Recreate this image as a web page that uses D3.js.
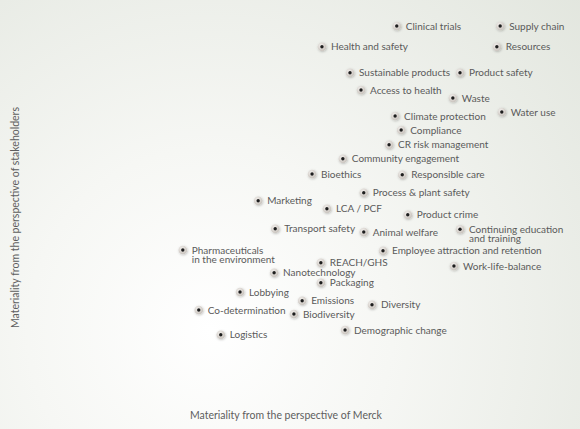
<!DOCTYPE html>
<html>
<head>
<meta charset="utf-8">
<script src="https://cdn.jsdelivr.net/npm/d3@7"></script>
<style>
  html, body { margin: 0; padding: 0; background: #fff; }
  svg { display: block; }
  .label { font-family: 'Lato', 'Open Sans', sans-serif; font-size: 10px; fill: #5a5a5a; }
  .axis-title { font-family: 'Lato', 'Open Sans', sans-serif; font-size: 10.5px; fill: #5e5e5e; }
</style>
</head>
<body>
<svg id="chart"></svg>
<script>
// topics
const topics = [
  'Clinical trials', 'Supply chain', 'Health and safety', 'Resources',
  'Sustainable products', 'Product safety', 'Access to health', 'Waste',
  'Water use', 'Climate protection', 'Compliance', 'CR risk management',
  'Community engagement', 'Bioethics', 'Responsible care', 'Process & plant safety',
  'Marketing', 'LCA / PCF', 'Product crime', 'Transport safety',
  'Animal welfare', 'Continuing education\nand training', 'Pharmaceuticals\nin the environment',
  'Employee attraction and retention', 'REACH/GHS', 'Work-life-balance',
  'Nanotechnology', 'Packaging', 'Lobbying', 'Emissions', 'Diversity',
  'Co-determination', 'Biodiversity', 'Demographic change', 'Logistics'
]
// materiality from the perspective of Merck (0-10)
const merckValues = [
  6.85, 8.73, 5.49, 8.67,
  6.0, 8.0, 6.2, 7.87,
  8.76, 6.82, 6.93, 6.71,
  5.87, 5.31, 6.95, 6.25,
  4.33, 5.58, 7.05, 4.64,
  6.25, 8.0, 2.96,
  6.6, 5.47, 7.89,
  4.62, 5.47, 4.0, 5.13, 6.4,
  3.25, 4.98, 5.91, 3.65
]
// materiality from the perspective of stakeholders (0-10)
const stakeholderValues = [
  9.6, 9.6, 9.08, 9.08,
  8.43, 8.43, 8.0, 7.8,
  7.45, 7.35, 7.0, 6.63,
  6.28, 5.9, 5.88, 5.43,
  5.23, 5.03, 4.88, 4.53,
  4.45, 4.52, 4.0,
  3.98, 3.68, 3.6,
  3.43, 3.18, 2.95, 2.73, 2.63,
  2.5, 2.4, 2.0, 1.88
]
const xTitle = 'Materiality from the perspective of Merck'
const yTitle = 'Materiality from the perspective of stakeholders'

const width = 580, height = 429

const svg = d3.select('#chart')
  .attr('width', width)
  .attr('height', height)

const defs = svg.append('defs')

const bg = defs.append('radialGradient')
  .attr('id', 'bg')
  .attr('gradientUnits', 'userSpaceOnUse')
  .attr('cx', 210).attr('cy', 330).attr('r', 520)
bg.append('stop').attr('offset', '0').attr('stop-color', '#ffffff')
bg.append('stop').attr('offset', '0.35').attr('stop-color', '#f6f7f4')
bg.append('stop').attr('offset', '1').attr('stop-color', '#e1e5dd')

const dotGrad = defs.append('radialGradient')
  .attr('id', 'dot')
  .attr('cx', '40%').attr('cy', '35%').attr('r', '65%')
dotGrad.append('stop').attr('offset', '0').attr('stop-color', '#f4f1ee')
dotGrad.append('stop').attr('offset', '1').attr('stop-color', '#c9c3bd')

const shadow = defs.append('filter')
  .attr('id', 'shadow')
  .attr('x', '-50%').attr('y', '-50%').attr('width', '200%').attr('height', '200%')
shadow.append('feDropShadow')
  .attr('dx', 0.6).attr('dy', 0.8).attr('stdDeviation', 0.8)
  .attr('flood-color', '#000').attr('flood-opacity', 0.25)

svg.append('rect')
  .attr('width', width)
  .attr('height', height)
  .attr('fill', 'url(#bg)')

const data = topics.map((t, i) => ({ name: t, x: merckValues[i], y: stakeholderValues[i] }))

// scales
const x = d3.scaleLinear().domain([0, 10]).range([20, 570])
const y = d3.scaleLinear().domain([0, 10]).range([410, 10])

const points = svg.append('g')
  .selectAll('g')
  .data(data)
  .join('g')
  .attr('transform', d => `translate(${x(d.x)},${y(d.y)})`)

points.append('circle')
  .attr('r', 4.3)
  .attr('fill', 'url(#dot)')
  .attr('filter', 'url(#shadow)')

points.append('circle')
  .attr('r', 1.7)
  .attr('fill', '#1e1e1e')

points.append('text')
  .attr('class', 'label')
  .attr('x', 9)
  .attr('y', 3.6)
  .selectAll('tspan')
  .data(d => d.name.split('\n'))
  .join('tspan')
  .attr('x', 9)
  .attr('dy', (d, i) => i === 0 ? 0 : 9.6)
  .text(d => d)

// axis titles
svg.append('text')
  .attr('class', 'axis-title')
  .attr('x', 190)
  .attr('y', 419)
  .text(xTitle)

svg.append('text')
  .attr('class', 'axis-title')
  .attr('transform', 'translate(19,328) rotate(-90)')
  .text(yTitle)
</script>
</body>
</html>
